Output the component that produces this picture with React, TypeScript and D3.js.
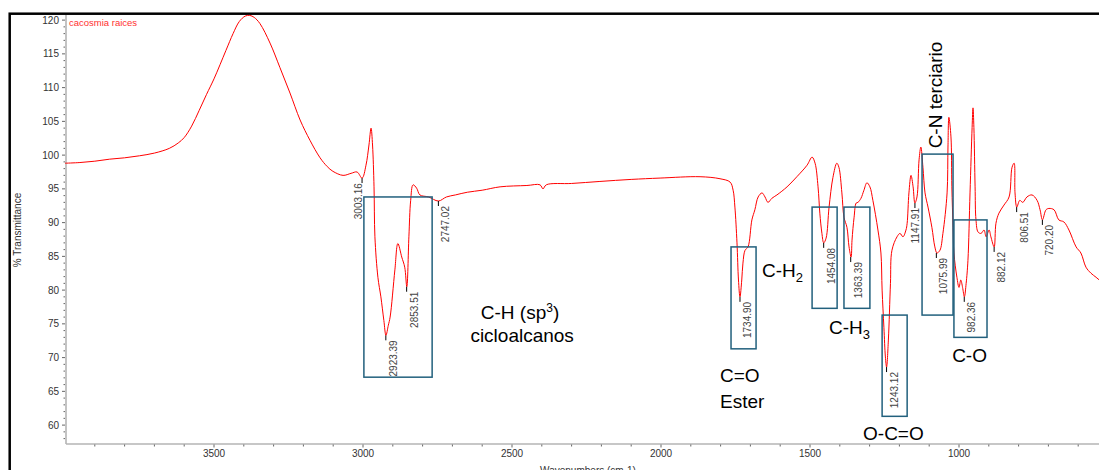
import React from "react";
import * as d3 from "d3";

const wavenumbers = [4000,3950,3900,3850,3800,3750,3700,3650,3620,3600,3575,3550,3525,3500,3460,3436,3415,3395,3380,3365,3346,3312,3279,3245,3211,3178,3144,3120,3101,3067,3040,3020,3003,2990,2980,2973,2968,2963,2960,2950,2940,2930,2923,2915,2909,2893,2883,2870,2860,2853,2846,2840,2832,2820,2809,2780,2747,2720,2690,2650,2600,2540,2450,2406,2396,2385,2300,2205,2100,2003,1869,1802,1768,1758,1752,1745,1740,1735,1729,1725,1718,1708,1695,1685,1674,1661,1651,1641,1628,1611,1577,1544,1510,1493,1483,1473,1467,1460,1454,1446,1436,1423,1410,1403,1393,1386,1376,1369,1362,1359,1352,1345,1339,1329,1319,1309,1299,1289,1272,1262,1258,1252,1247,1243,1237,1230,1225,1208,1198,1188,1178,1174,1168,1161,1154,1148,1141,1134,1128,1121,1114,1104,1091,1081,1074,1064,1054,1040,1037,1034,1027,1024,1020,1017,1007,1000,994,988,982,976,970,963,956,953,950,946,943,936,926,916,909,899,893,882,876,866,849,832,822,815,812,806,796,786,772,755,738,728,720,708,698,681,665,648,631,607,591,574,557,540,520,500];
const transmittance = [98.8,98.9,99.1,99.4,99.6,99.9,100.3,101.0,101.8,102.6,104.3,106.6,109.0,111.3,115.5,118.0,119.8,120.6,120.7,120.4,119.5,116.6,113.0,109.2,105.2,102.2,99.6,98.3,97.6,97.0,97.3,97.5,96.6,98.5,101.5,104.0,101.5,95.3,87.9,81.9,79.0,75.5,73.3,74.8,76.0,83.0,86.9,84.9,83.4,80.5,87.9,93.3,95.6,95.1,94.1,93.8,93.2,93.8,94.1,94.5,94.8,95.3,95.5,95.6,95.0,95.6,95.8,96.1,96.4,96.6,96.8,96.5,96.0,94.8,92.3,87.0,81.5,79.0,81.5,84.0,85.9,86.4,90.4,91.9,93.8,94.4,93.8,93.0,93.6,94.1,95.3,96.8,98.5,99.7,98.8,95.3,91.4,88.4,87.0,87.7,92.3,96.7,98.8,98.2,94.4,90.8,89.3,86.4,84.9,87.4,90.8,92.9,93.0,93.6,94.8,95.9,95.3,93.3,88.9,85.5,80.0,74.5,70.1,68.6,72.6,81.0,85.9,87.9,88.4,87.9,88.9,89.9,94.4,97.0,95.3,92.9,93.8,99.3,101.2,98.2,94.4,92.3,89.3,86.4,85.5,85.9,88.4,94.4,101.2,105.6,102.7,95.3,89.3,85.5,81.9,80.4,81.5,80.4,79.0,81.0,84.4,94.4,104.1,107.0,104.1,95.3,90.4,88.6,88.4,88.9,87.9,88.9,87.9,86.4,89.9,91.4,92.6,93.8,98.2,98.8,94.4,92.3,93.3,93.0,93.8,94.1,93.3,91.9,90.4,91.9,92.1,91.9,90.4,90.1,88.9,86.4,85.5,83.4,82.5,81.9,81.2,80.8];

const peakLabels = ["3003.16","2923.39","2853.51","2747.02","1734.90","1454.08","1363.39","1243.12","1147.91","1075.99","982.36","882.12","806.51","720.20"];
const peakT = [96.6,73.3,80.5,93.2,79.0,87.0,84.9,68.6,92.9,85.5,79.0,86.4,92.3,90.4];

// boxes: [wnLeft, wnRight, Ttop, Tbottom]
const boxWnLeft = [2997,1765,1493,1386,1258,1124,1017];
const boxWnRight = [2768,1681,1409,1299,1174,1020,906];
const boxTTop = [93.8,86.4,92.3,92.3,76.3,100.15,90.4];
const boxTBottom = [67.1,71.3,77.3,77.3,61.3,76.3,73.0];

const yTicks = [60,65,70,75,80,85,90,95,100,105,110,115,120];
const xTicks = [3500,3000,2500,2000,1500,1000];

const seriesName = "cacosmia raices";
const xTitle = "Wavenumbers (cm-1)";
const yTitle = "% Transmittance";

const FONT = "'Liberation Sans', Arial, sans-serif";
const BOX = "#22607d";

export default function App() {
  const x = d3.scaleLinear().domain([4000, 450]).range([65, 65 + 3550 * 0.298]);
  const y = d3.scaleLinear().domain([57.2, 120.7]).range([444, 15.4]);
  const pts: [number, number][] = wavenumbers.map((w, i) => [w, transmittance[i]]);
  const line = d3.line<[number, number]>().x(d => x(d[0])).y(d => y(d[1])).curve(d3.curveCatmullRom.alpha(0.5));
  const minorY = d3.range(58, 121, 1);
  const minorX = d3.range(3900, 450, -100);

  const ann = (wn: number, t: number) => [x(wn), y(t)];

  return (
    <svg width={1099} height={470} style={{ position: "absolute", left: 0, top: 0, display: "block", background: "#fff" }} fontFamily={FONT}>
      <rect x={0} y={0} width={1099} height={470} fill="#fff" />
      {/* frame */}
      <rect x={9.7} y={13.7} width={1200} height={600} fill="none" stroke="#000" strokeWidth={2.5} />
      {/* axes */}
      <line x1={x(4000) + 1} x2={1099} y1={444} y2={444} stroke="#b4b4b4" strokeWidth={1.6} />
      <line x1={x(4000) + 1} x2={x(4000) + 1} y1={15} y2={444} stroke="#b4b4b4" strokeWidth={1.6} />
      {minorY.map(v => (
        <line key={"my" + v} x1={x(4000) - (v % 5 === 0 ? 3 : 1.5)} x2={x(4000)} y1={y(v)} y2={y(v)} stroke="#666" strokeWidth={1} />
      ))}
      {yTicks.map(v => (
        <text key={"yt" + v} x={59} y={y(v) + 3.5} fontSize={10} fill="#333" textAnchor="end">{v}</text>
      ))}
      {minorX.map(v => (
        <line key={"mx" + v} x1={x(v)} x2={x(v)} y1={444.5} y2={v % 500 === 0 ? 447.5 : 446.5} stroke="#666" strokeWidth={1} />
      ))}
      {xTicks.map(v => (
        <text key={"xt" + v} x={x(v)} y={457} fontSize={10} fill="#333" textAnchor="middle">{v}</text>
      ))}
      <text x={588} y={474} fontSize={10} fill="#333" textAnchor="middle">{xTitle}</text>
      <text transform="translate(21,230) rotate(-90)" fontSize={10} fill="#333" textAnchor="middle">{yTitle}</text>
      <text x={69} y={26} fontSize={9.5} fill="#ff3030">{seriesName}</text>

      {/* spectrum */}
      <path d={line(pts) || ""} fill="none" stroke="#ff0000" strokeWidth={1} />

      {/* peak markers */}
      {peakLabels.map((lab, i) => {
        const px = x(parseFloat(lab));
        const py = y(peakT[i]);
        const dx = lab === "3003.16" ? 0 : lab === "1147.91" ? 4 : 11;
        return (
          <g key={"pk" + lab}>
            <line x1={px} x2={px} y1={py} y2={py + 5} stroke="#000" strokeWidth={1} />
            <text transform={`translate(${px + dx},${py + 5}) rotate(-90)`} fontSize={10} fill="#444" textAnchor="end">{lab}</text>
          </g>
        );
      })}

      {/* boxes */}
      {boxWnLeft.map((w, i) => (
        <rect key={"bx" + i} x={x(w)} y={y(boxTTop[i])} width={x(boxWnRight[i]) - x(w)} height={y(boxTBottom[i]) - y(boxTTop[i])} fill="none" stroke={BOX} strokeWidth={1.5} />
      ))}

      {/* annotations */}
      <g fontSize={19} fill="#000">
        <text x={ann(2473, 75.7)[0]} y={ann(2473, 75.7)[1]} textAnchor="middle">C-H (sp<tspan fontSize={12} dy={-7}>3</tspan><tspan dy={7}>)</tspan></text>
        <text x={ann(2466, 72.3)[0]} y={ann(2466, 72.3)[1]} textAnchor="middle">cicloalcanos</text>
        <text x={ann(1802, 66.4)[0]} y={ann(1802, 66.4)[1]}>C=O</text>
        <text x={ann(1802, 62.5)[0]} y={ann(1802, 62.5)[1]}>Ester</text>
        <text x={ann(1661, 81.9)[0]} y={ann(1661, 81.9)[1]}>C-H<tspan fontSize={13} dy={5}>2</tspan></text>
        <text x={ann(1436, 73.5)[0]} y={ann(1436, 73.5)[1]}>C-H<tspan fontSize={13} dy={5}>3</tspan></text>
        <text x={ann(1322, 57.8)[0]} y={ann(1322, 57.8)[1]}>O-C=O</text>
        <text x={ann(1023, 69.3)[0]} y={ann(1023, 69.3)[1]}>C-O</text>
        <text transform={`translate(${ann(1057, 101)[0]},${ann(1057, 101)[1]}) rotate(-90)`}>C-N terciario</text>
      </g>
    </svg>
  );
}
